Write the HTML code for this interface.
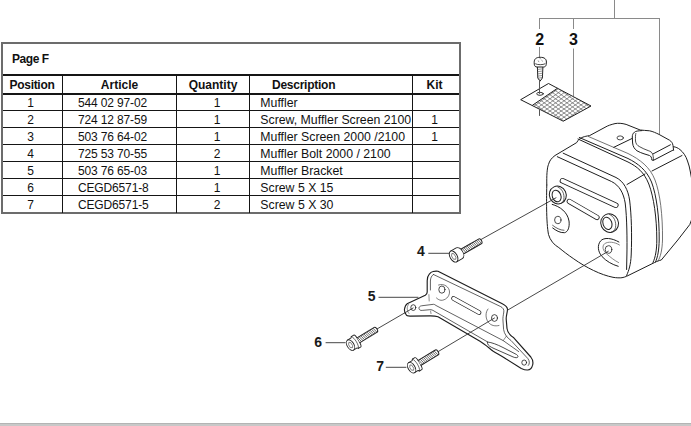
<!DOCTYPE html>
<html><head><meta charset="utf-8">
<style>
html,body{margin:0;padding:0;background:#fff;}
body{width:691px;height:426px;position:relative;overflow:hidden;font-family:"Liberation Sans",sans-serif;color:#111;}
.t{position:absolute;font-size:12px;line-height:14px;white-space:nowrap;}
.b{font-weight:bold;}
.c{text-align:center;}
.d{font-size:12.3px;left:260.3px;}
.a{left:78px;letter-spacing:-0.15px;}
.h{position:absolute;background:#151515;}
.v{position:absolute;background:#151515;width:1px;}
.bar{position:absolute;left:0;top:423px;width:691px;height:3px;background:#c8c8c8;}
.bar:before{content:"";position:absolute;left:0;top:0;width:691px;height:1px;background:#b4b4b4;}
svg{position:absolute;left:0;top:0;}
</style></head><body>
<!-- table frame -->
<div style="position:absolute;left:1px;top:42px;width:456px;height:168px;border:2px solid #6c6c6c;"></div>
<div class="h" style="left:3px;top:74px;width:456px;height:2px;"></div>
<div class="h" style="left:3px;top:93px;width:456px;height:2px;"></div>
<div class="h" style="left:3px;top:110px;width:456px;height:1px;"></div>
<div class="h" style="left:3px;top:127px;width:456px;height:1px;"></div>
<div class="h" style="left:3px;top:144px;width:456px;height:1px;"></div>
<div class="h" style="left:3px;top:161px;width:456px;height:1px;"></div>
<div class="h" style="left:3px;top:178px;width:456px;height:1px;"></div>
<div class="h" style="left:3px;top:195px;width:456px;height:1px;"></div>
<div class="v" style="left:62px;top:75px;height:138px;"></div>
<div class="v" style="left:176px;top:75px;height:138px;"></div>
<div class="v" style="left:249px;top:75px;height:138px;"></div>
<div class="v" style="left:412px;top:75px;height:138px;"></div>

<div class="t b" style="left:12px;top:52px;letter-spacing:-0.45px;">Page F</div>

<div class="t b c" style="left:2.5px;width:59px;top:78px;letter-spacing:-0.3px;">Position</div>
<div class="t b c" style="left:63px;width:113px;top:78px;">Article</div>
<div class="t b c" style="left:177px;width:72px;top:78px;">Quantity</div>
<div class="t b" style="left:272px;top:78px;letter-spacing:-0.25px;">Description</div>
<div class="t b c" style="left:411px;width:47px;top:78px;">Kit</div>

<div class="t c" style="left:0px;width:61px;top:96px;">1</div>
<div class="t c" style="left:0px;width:61px;top:113px;">2</div>
<div class="t c" style="left:0px;width:61px;top:130px;">3</div>
<div class="t c" style="left:0px;width:61px;top:147px;">4</div>
<div class="t c" style="left:0px;width:61px;top:164px;">5</div>
<div class="t c" style="left:0px;width:61px;top:181px;">6</div>
<div class="t c" style="left:0px;width:61px;top:198px;">7</div>

<div class="t a" style="top:96px;">544 02 97-02</div>
<div class="t a" style="top:113px;">724 12 87-59</div>
<div class="t a" style="top:130px;">503 76 64-02</div>
<div class="t a" style="top:147px;">725 53 70-55</div>
<div class="t a" style="top:164px;">503 76 65-03</div>
<div class="t a" style="top:181px;">CEGD6571-8</div>
<div class="t a" style="top:198px;">CEGD6571-5</div>

<div class="t c" style="left:181px;width:72px;top:96px;">1</div>
<div class="t c" style="left:181px;width:72px;top:113px;">1</div>
<div class="t c" style="left:181px;width:72px;top:130px;">1</div>
<div class="t c" style="left:181px;width:72px;top:147px;">2</div>
<div class="t c" style="left:181px;width:72px;top:164px;">1</div>
<div class="t c" style="left:181px;width:72px;top:181px;">1</div>
<div class="t c" style="left:181px;width:72px;top:198px;">2</div>

<div class="t d" style="top:96px;">Muffler</div>
<div class="t d" style="top:113px;">Screw, Muffler Screen 2100</div>
<div class="t d" style="top:130px;">Muffler Screen 2000 /2100</div>
<div class="t d" style="top:147px;">Muffler Bolt 2000 / 2100</div>
<div class="t d" style="top:164px;">Muffler Bracket</div>
<div class="t d" style="top:181px;">Screw 5 X 15</div>
<div class="t d" style="top:198px;">Screw 5 X 30</div>

<div class="t c" style="left:411px;width:47px;top:113px;">1</div>
<div class="t c" style="left:411px;width:47px;top:130px;">1</div>

<!-- diagram -->
<svg width="691" height="426" viewBox="0 0 691 426" fill="none" stroke="#1e1e1e" stroke-width="1" stroke-linecap="round" stroke-linejoin="round">
  <defs>
    <pattern id="hatch" patternUnits="userSpaceOnUse" x="0" y="0.2" width="4" height="3.6" stroke="none">
      <rect x="0" y="0" width="4" height="3.6" fill="#f4f4f4"/>
      <rect x="3" y="0" width="1" height="3.6" fill="#6a6a6a"/>
      <rect x="0" y="2.6" width="4" height="1" fill="#7a7a7a"/>
    </pattern>
    <g id="thr">
      <path d="M0 -2.6L1.2 2.6M1.8 -2.6L3 2.6M3.6 -2.6L4.8 2.6M5.4 -2.6L6.6 2.6M7.2 -2.6L8.4 2.6M9 -2.6L10.2 2.6M10.8 -2.6L12 2.6M12.6 -2.6L13.8 2.6M14.4 -2.6L15.6 2.6M16.2 -2.6L17.4 2.6M18 -2.6L19.2 2.6" stroke-width="0.7" stroke="#3a3a3a"/>
    </g>
  </defs>
  <!-- leader lines top -->
  <g stroke="#8a8a8a" stroke-width="1" stroke-linecap="butt">
    <path d="M614.5 0V18.5 M539.5 18.5H659.5 M539.5 18V29 M573.5 18V29 M659.5 18V134 M539.5 47V57.5 M573.5 48.5V96"/>
  </g>
  <!-- labels 2 3 -->
  <g fill="#111" stroke="none" font-family="Liberation Sans" font-weight="bold" font-size="16">
    <text x="535.2" y="45">2</text>
    <text x="569.1" y="45">3</text>
  </g>
  <!-- screw 2 -->
  <g>
    <path d="M537.4 67L537.8 78L540 81.2L542.4 78L542.9 67" fill="#fff"/>
    <path d="M537.6 69.5L542.7 68.8M537.7 71.7L542.6 71M537.8 73.9L542.5 73.2M537.9 76.1L542.4 75.4M538.4 78.2L542 77.6" stroke-width="0.6" stroke="#555"/>
    <path d="M534.2 62C534.2 59 536 57.3 540.2 57.3C544.5 57.3 546.4 59 546.4 62L546.2 64.5C546 66.2 545 67 543.5 67L537 67C535.5 67 534.5 66.2 534.3 64.5Z" fill="#fff"/>
    <path d="M535.6 63.9C537.5 65 543 65 544.9 63.9" stroke-width="0.8"/>
    <path d="M538.3 60.8L538.8 61.8M541.6 60.2L542.6 61.2M540.2 58.2V58.8" stroke-width="0.6" stroke="#555"/>
  </g>
  <!-- screen 3 -->
  <g>
    <clipPath id="scr"><path d="M557 88.6L591 106L563.6 121L532.6 105.2Z"/></clipPath>
    <path clip-path="url(#scr)" d="M528 62.67L596 111.63M528 66.74L596 115.70M528 70.81L596 119.77M528 74.87L596 123.83M528 78.94L596 127.90M528 83.01L596 131.97M528 87.07L596 136.03M528 91.14L596 140.10M528 95.20L596 144.16M528 99.27L596 148.23M528 110.55L596 61.59M528 114.61L596 65.65M528 118.68L596 69.72M528 122.74L596 73.78M528 126.81L596 77.85M528 130.88L596 81.92M528 134.94L596 85.98M528 139.01L596 90.05M528 143.08L596 94.12M528 147.14L596 98.18M528 151.21L596 102.25" stroke="#606060" stroke-width="0.7" stroke-linecap="butt"/>
    <path d="M521 99.5L548.5 83.5L591 106L563.6 121Z M557 88.6L532.6 105.2"/>
    <ellipse cx="540" cy="93.8" rx="3.3" ry="1.5" stroke-width="0.9"/>
    <path d="M539.5 80V93.5M539.5 109V115.5" stroke="#555" stroke-width="1"/>
  </g>
  <!-- muffler -->
  <g id="muffler">
    <!-- silhouette -->
    <path d="M546.8 185C546.6 176 547 168 548.5 164.4C549.5 161 551 158.5 555 155.5L576.7 142.6C577.5 141.2 578 140.3 579.3 139.2C581 137.6 584 136.4 589.6 135.6L605 127.3C608 125.5 611 124.6 615 123.6C618 123 622 123.2 626.1 124.4L640.2 130C643 130.5 646 130.3 649.6 130.8C653 131.5 656 133 659 134.4L669.5 140.2C671.5 141.5 672.6 143 673 145.5L673.6 150.2"/>
    <path d="M673.6 146.7C676 147 678 148 680 149.6C683 152 686 156 687.5 161C688.8 164.5 689.6 167.5 690.2 171L691.5 178"/>
    <path d="M546.8 185C546.5 195 546.6 204 546.6 208C546.8 220 547.3 228 548.5 234.5C550 240 554 245 558.8 247.6C563 251 568 255 573.8 258.9C586 267.5 601 275 613 277.3C616 277.9 620 278 622 277.7C623.5 277.4 625 277 626.6 276.3L654.4 262.6C657 261.2 659 260.6 661.3 260L677.8 240L689.8 224.5L691.5 220"/>
    <!-- front face top double lines + right edge -->
    <path d="M563.2 153.2L616 177.5C624 181.5 628 190 629.6 200C631.5 215 632 235 631.2 255C630.7 265 629 270 626.6 275.5"/>
    <path d="M557.3 156.7L611.5 181.5C619.5 185.5 623.5 193 625.2 203C627 218 627.2 240 626.9 255L626.6 269.5"/>
    <!-- seam triple lines -->
    <path d="M588.4 136.5L628 153.5C640 159.5 650 167 655 180C660 193 662.8 215 662.5 240C662.2 250 660.5 257 658 261" stroke-width="0.75" stroke="#444"/>
    <path d="M579.3 137.5L628 158.5C638 163.5 646.5 170 651.5 182C656.5 195 659.4 217 659.2 240C659 250 657.8 257 655.5 262"/>
    <path d="M578 139L628 162C637 166.5 644 172 648.8 184C653.8 197 656.8 218 656.8 240C656.8 250 655.5 257 653 262.5"/>
    <!-- upper shell details -->
    <path d="M613.8 147.3L632 138.5"/>
    <ellipse cx="620.2" cy="137.9" rx="3.2" ry="2" stroke-width="0.8"/>
    <!-- tab -->
    <path d="M641.9 130.6C638 130.8 635.5 131.2 634.5 132.1C632.8 133.5 632.3 135 632.3 137L632.6 143C632.9 146.5 634.5 149 637 150.8C639 152 641.5 153 644 153.8L649.5 155.5C651 156.2 651.7 157.5 651.9 160.1L653.5 160.3L673.6 149.8"/>
    <path d="M635.8 133.5C635.4 135 635.4 137 635.5 141C635.8 143.5 637 145.5 639.8 146.8C642.5 148.3 645 149.5 648.2 150.6C650.5 151.4 652 152.3 652.6 154C653.2 155.5 653.4 157.5 653.5 160.1" stroke-width="0.8"/>
    <path d="M653.3 153.8L670.4 144.8"/>
    <path d="M652 171L682 155.5"/>
    <path d="M627 184.5L645 174"/>
    <!-- slots -->
    <path d="M562.5 180.8L615.8 205.2" stroke-width="5.6"/>
    <path d="M562.5 180.8L615.8 205.2" stroke-width="3.9" stroke="#fff"/>
    <path d="M569.3 201.4L597 217.4" stroke-width="5.2"/>
    <path d="M569.3 201.4L597 217.4" stroke-width="3.6" stroke="#fff"/>
    <!-- bosses -->
    <ellipse cx="557.8" cy="195" rx="8.4" ry="9" transform="rotate(-25 557.8 195)" fill="#fff"/>
    <ellipse cx="556.6" cy="196" rx="4.3" ry="6" transform="rotate(-20 556.6 196)"/>
    <path d="M557.8 187C562 188.5 564.8 194 563.8 199.5C563.2 202 561.8 203.5 559.8 203.8" stroke-width="0.7"/>
    <ellipse cx="609.6" cy="223.1" rx="8.8" ry="9.4" transform="rotate(-25 609.6 223.1)" fill="#fff"/>
    <ellipse cx="607.4" cy="223.3" rx="4.4" ry="6.3" transform="rotate(-20 607.4 223.3)"/>
    <path d="M609.5 214.5C614 216 616.5 222 615.5 227.5C615 230 613.5 231.5 611.5 232" stroke-width="0.7"/>
    <ellipse cx="557.8" cy="220" rx="3.2" ry="3.7" stroke-width="0.8"/>
    <ellipse cx="608.5" cy="249.5" rx="3.3" ry="3.8" stroke-width="0.8"/>
    <!-- embossing -->
    <path d="M552.2 204.4C560 206.5 567.5 212 569 221C569.8 227 568 232 564.5 232.7C560 233 556 230.5 552.7 228"/>
    <path d="M552.6 225.3C556 228 560 230.2 564 230.3" stroke-width="0.7"/>
    <path d="M618.9 242C612 238 604 237 600.5 241C597 245.5 598 252 602 256.5C606 261 612 264.5 618.2 266.3"/>
    <path d="M619.5 245C614.5 241.8 608 241.2 604.5 243.8C602 246 602.5 250.5 607 254.2C610.5 257.3 614.5 260.5 618.6 262.6" stroke-width="0.7" stroke="#555"/>
  </g>
  <!-- bracket -->
  <g>
    <path d="M404.4 309.8C404.8 306.5 405.8 304.5 407.6 303.4L425.3 295.2C426.5 294.5 427.2 293.5 427.2 292L427.2 280.7C427.3 277.5 428 275.5 429.1 274.3C430.5 272.5 432 271.7 433 271.5C435 271 436.5 271 438 271.2L502.3 303.7C505.5 305.3 507.8 307.5 507.5 310C507.2 313 506 316 506.2 319L507 328.5C507.5 332.5 510 335.5 513.8 337.8L530.8 357C532.8 359.5 533.3 362.5 532.6 365.2C531.8 368 529.5 370 527.7 370C525.5 370.2 523 369.2 521.3 368.4L505.8 358.7C501 355.5 497 353.5 492.9 351C489 348 484.5 344 480 341.3L438 316.7C436 316 433 315.8 430.4 315.8L410.1 316.1C408 316 406.5 315.5 406.3 314.8C405 313.5 404.4 312 404.4 309.8Z" fill="#fff" stroke-width="1.15" stroke="#1e1e1e"/>
    <path d="M433.5 274.5L500.5 306.5C503 307.8 504.2 309.5 503.8 312C503.4 315 502.6 318 503 321L503.6 329.5C504.3 334 506.8 337.5 511 340.5L527.8 358.5C529.8 361 529.8 364 528.3 365.5" stroke-width="0.7"/>
    <path d="M433.5 274.5C431.5 275.5 430.5 278 430.4 281L430.4 290" stroke-width="0.7"/>
    <path d="M428.9 294.6L429.2 301" stroke-width="0.5"/>
    <path d="M518.7 351.6L503.2 340.6L436 305.5C435 304.8 434.5 304.3 433.5 304.3L421.5 305.8C419.5 306.1 418.8 307.5 419 308.5C419.3 310 420.5 310.6 422.2 310.4L429.9 309.7C431.5 309.7 432.5 310 434 311L487.7 342" stroke-width="0.7"/>
    <path d="M503.2 340.6L506.5 336" stroke-width="0.5"/>
    <path d="M430.6 311.2L431 313.6" stroke-width="0.5"/>
    <path d="M408.5 304.5C406.5 307 406.8 311 409 313.5" stroke-width="0.5"/>
    <ellipse cx="413.3" cy="307.6" rx="2.5" ry="2.9" stroke-width="0.8"/>
    <ellipse cx="441.9" cy="289.6" rx="3.1" ry="3.6" stroke-width="0.8"/>
    <path d="M438.5 285C444 283 449.5 287 449.5 292C449.5 297 445 300.5 441 300.3C439 300 437.5 299 436.5 298" stroke-width="0.6"/>
    <path d="M453.6 298.5L479 312.5" stroke-width="4.8"/>
    <path d="M453.6 298.5L479 312.5" stroke-width="3.2" stroke="#fff"/>
    <ellipse cx="494.5" cy="318" rx="3" ry="3.4" stroke-width="0.8"/>
    <path d="M488 309C485.5 312 485 318 488.5 322.5C491 325.5 495 326.5 499 325.5" stroke-width="0.6"/>
    <path d="M487.7 342C492 342.5 497 344.5 503 347.5L516.5 354.5C518 355.5 518.5 357 517.4 357.5C516 358 514 357.5 511 356L494 348.5C490.5 347 488 345.5 487.7 344Z" stroke-width="0.8"/>
    <ellipse cx="524.2" cy="362.6" rx="2.4" ry="2.6" stroke-width="0.8"/>
  </g>
  <!-- leader lines in lower diagram -->
  <g stroke="#333" stroke-width="0.9">
    <path d="M481.4 239.3L556 197.8"/>
    <path d="M428.7 253.3H449"/>
    <path d="M378.9 297.3H418"/>
    <path d="M326 342.7H345.2"/>
    <path d="M376.8 329.1L413.1 308"/>
    <path d="M386.2 367.3H406"/>
    <path d="M438 351.7L494.5 318M507.3 310.3L608.3 251.3"/>
  </g>
  <!-- labels 4-7 -->
  <g fill="#1a1a1a" stroke="none" font-family="Liberation Sans" font-weight="bold" font-size="14">
    <text x="417" y="256.3">4</text>
    <text x="367.8" y="301">5</text>
    <text x="314.2" y="347.4">6</text>
    <text x="376.3" y="371.4">7</text>
  </g>
  <!-- screws -->
  <g transform="translate(453.6 256.5) rotate(-29.8)">
    <path d="M0 -6.1L6.5 -6.1C9 -6.1 10.4 -3 10.4 0C10.4 3 9 6.1 6.5 6.1L0 6.1" fill="#fff" stroke-width="0.9"/>
    <ellipse cx="0" cy="0" rx="3.6" ry="6.1" fill="#fff" stroke-width="0.9"/>
    <path d="M-1.3 -1.8L0 -3.5L1.5 -2.4L1.7 1.8L0.4 3.5L-1.2 2.4Z" stroke-width="0.6" stroke="#444"/>
    <path d="M10.8 -2.7H30.8C31.8 -2.7 32.1 -1 32.1 0C32.1 1 31.8 2.7 30.8 2.7H10.8" fill="#fff"/>
    <use href="#thr" x="11.5" y="0"/>
  </g>
  <g transform="translate(350.5 345.1) rotate(-31.3)">
    <path d="M0 -5.8L4.2 -5.8L5 -6.9L8 -6.9C8.9 -6.9 9.4 -3.5 9.4 0C9.4 3.5 8.9 6.9 8 6.9L5 6.9L4.2 5.8L0 5.8" fill="#fff" stroke-width="0.9"/>
    <ellipse cx="0" cy="0" rx="3.4" ry="5.8" fill="#fff" stroke-width="0.9"/>
    <path d="M-1.2 -1.6L0 -3.2L1.4 -2.2L1.6 1.6L0.4 3.2L-1.1 2.2Z" stroke-width="0.6" stroke="#444"/>
    <path d="M5.2 -6.9C6.3 -5.8 6.8 -2.4 6.8 0C6.8 2.4 6.3 5.8 5.2 6.9" stroke-width="0.6"/>
    <path d="M9.4 -2.8H29.5C30.5 -2.8 31 -1 31 0C31 1 30.5 2.8 29.5 2.8H9.4" fill="#fff"/>
    <use href="#thr" x="10" y="0"/>
  </g>
  <g transform="translate(411.6 367.7) rotate(-31.2)">
    <path d="M0 -5.8L4.2 -5.8L5 -6.9L8 -6.9C8.9 -6.9 9.4 -3.5 9.4 0C9.4 3.5 8.9 6.9 8 6.9L5 6.9L4.2 5.8L0 5.8" fill="#fff" stroke-width="0.9"/>
    <ellipse cx="0" cy="0" rx="3.4" ry="5.8" fill="#fff" stroke-width="0.9"/>
    <path d="M-1.2 -1.6L0 -3.2L1.4 -2.2L1.6 1.6L0.4 3.2L-1.1 2.2Z" stroke-width="0.6" stroke="#444"/>
    <path d="M5.2 -6.9C6.3 -5.8 6.8 -2.4 6.8 0C6.8 2.4 6.3 5.8 5.2 6.9" stroke-width="0.6"/>
    <path d="M9.4 -2.8H29.5C30.5 -2.8 31 -1 31 0C31 1 30.5 2.8 29.5 2.8H9.4" fill="#fff"/>
    <use href="#thr" x="10" y="0"/>
  </g>
</svg>

<div class="bar"></div>
</body></html>
